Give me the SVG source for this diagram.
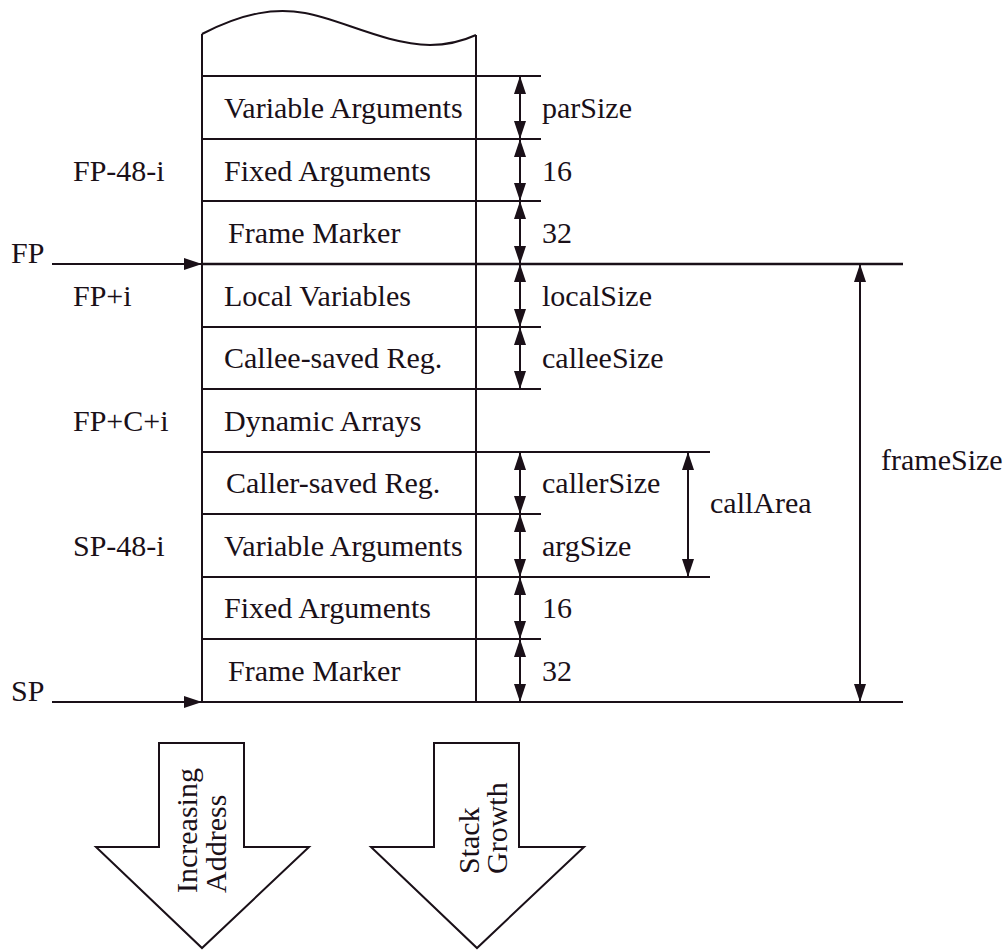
<svg xmlns="http://www.w3.org/2000/svg" width="1005" height="950" viewBox="0 0 1005 950">
<defs>
<marker id="ah" markerUnits="userSpaceOnUse" markerWidth="18" markerHeight="12" refX="18" refY="6" orient="auto-start-reverse" viewBox="0 0 18 12">
<path d="M0,0 L18,6 L0,12 z" fill="#1a1018"/>
</marker>
<style>
text{font-family:"Liberation Serif","Times New Roman",Times,serif;font-size:30px;fill:#1a1018}
.ln{stroke:#1a1018;stroke-width:2;fill:none}
.dim{stroke:#1a1018;stroke-width:2;fill:none;marker-start:url(#ah);marker-end:url(#ah)}
.arr{stroke:#1a1018;stroke-width:2;fill:none;marker-end:url(#ah)}
.big{stroke:#1a1018;stroke-width:2;fill:#fff}
</style>
</defs>
<rect width="1005" height="950" fill="#fff"/>

<g id="stack-top">
<path class="ln" d="M202,34 C245,12 275,8 305,13 C340,19 385,44 430,45 C450,45 465,40 476,35"/>
<line class="ln" x1="202" y1="34" x2="202" y2="702"/>
<line class="ln" x1="476" y1="35" x2="476" y2="702"/>
</g>

<g id="row-variable-arguments-1"><text x="224" y="118">Variable Arguments</text></g>
<g id="row-fixed-arguments-1"><text x="224" y="181">Fixed Arguments</text></g>
<g id="row-frame-marker-1"><text x="228" y="243">Frame Marker</text></g>
<g id="row-local-variables"><text x="224" y="306">Local Variables</text></g>
<g id="row-callee-saved"><text x="224" y="368">Callee-saved Reg.</text></g>
<g id="row-dynamic-arrays"><text x="224" y="431">Dynamic Arrays</text></g>
<g id="row-caller-saved"><text x="226" y="493">Caller-saved Reg.</text></g>
<g id="row-variable-arguments-2"><text x="224" y="556">Variable Arguments</text></g>
<g id="row-fixed-arguments-2"><text x="224" y="618">Fixed Arguments</text></g>
<g id="row-frame-marker-2"><text x="228" y="681">Frame Marker</text></g>

<g id="left-labels">
<text x="73" y="181">FP-48-i</text>
<text x="73" y="306">FP+i</text>
<text x="73" y="431">FP+C+i</text>
<text x="73" y="556">SP-48-i</text>
<text x="11" y="263">FP</text>
<text x="11" y="701">SP</text>
</g>

<g id="size-labels">
<text x="542" y="118">parSize</text>
<text x="542" y="181">16</text>
<text x="542" y="243">32</text>
<text x="542" y="306">localSize</text>
<text x="542" y="368">calleeSize</text>
<text x="542" y="493">callerSize</text>
<text x="542" y="556">argSize</text>
<text x="542" y="618">16</text>
<text x="542" y="681">32</text>
<text x="710" y="513">callArea</text>
<text x="881" y="470">frameSize</text>
</g>

<g id="connectors">
<line class="ln" x1="202" y1="76" x2="541" y2="76"/>
<line class="ln" x1="202" y1="139" x2="541" y2="139"/>
<line class="ln" x1="202" y1="201" x2="541" y2="201"/>
<line class="ln" x1="202" y1="264" x2="903" y2="264" style="stroke-width:2.5"/>
<line class="ln" x1="202" y1="327" x2="541" y2="327"/>
<line class="ln" x1="202" y1="389" x2="541" y2="389"/>
<line class="ln" x1="202" y1="452" x2="710" y2="452"/>
<line class="ln" x1="202" y1="514" x2="541" y2="514"/>
<line class="ln" x1="202" y1="577" x2="710" y2="577"/>
<line class="ln" x1="202" y1="639" x2="541" y2="639"/>
<line class="ln" x1="202" y1="702" x2="903" y2="702"/>

<line class="arr" x1="52" y1="264" x2="202" y2="264"/>
<line class="arr" x1="52" y1="702" x2="202" y2="702"/>

<line class="dim" x1="520" y1="76" x2="520" y2="139"/>
<line class="dim" x1="520" y1="139" x2="520" y2="201"/>
<line class="dim" x1="520" y1="201" x2="520" y2="264"/>
<line class="dim" x1="520" y1="264" x2="520" y2="327"/>
<line class="dim" x1="520" y1="327" x2="520" y2="389"/>
<line class="dim" x1="520" y1="452" x2="520" y2="514"/>
<line class="dim" x1="520" y1="514" x2="520" y2="577"/>
<line class="dim" x1="520" y1="577" x2="520" y2="639"/>
<line class="dim" x1="520" y1="639" x2="520" y2="702"/>
<line class="dim" x1="688" y1="452" x2="688" y2="577"/>
<line class="dim" x1="860" y1="264" x2="860" y2="702"/>
</g>

<g id="increasing-address">
<path class="big" d="M159,743 L244,743 L244,847 L309,847 L202,948 L96,847 L159,847 Z"/>
<text transform="translate(197,893) rotate(-90)">Increasing</text>
<text transform="translate(226,893) rotate(-90)">Address</text>
</g>

<g id="stack-growth">
<path class="big" d="M434,743 L519,743 L519,847 L584,847 L477,948 L371,847 L434,847 Z"/>
<text transform="translate(479,874) rotate(-90)">Stack</text>
<text transform="translate(507,874) rotate(-90)">Growth</text>
</g>
</svg>
